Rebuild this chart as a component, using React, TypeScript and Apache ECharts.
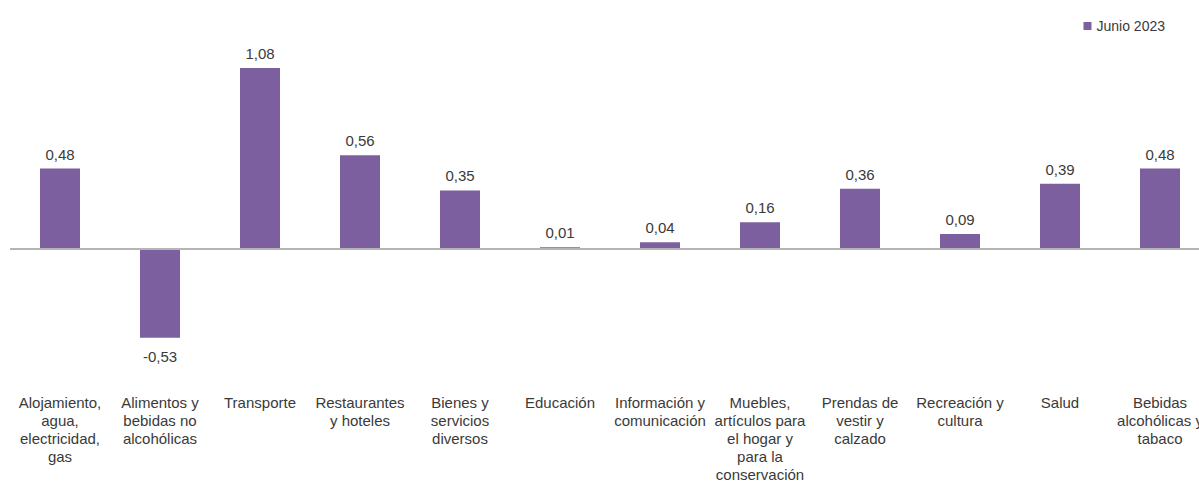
import React, { useEffect, useRef } from "react";
import * as echarts from "echarts";

const categories = [
  "Alojamiento,\nagua,\nelectricidad,\ngas",
  "Alimentos y\nbebidas no\nalcohólicas",
  "Transporte",
  "Restaurantes\ny hoteles",
  "Bienes y\nservicios\ndiversos",
  "Educación",
  "Información y\ncomunicación",
  "Muebles,\nartículos para\nel hogar y\npara la\nconservación",
  "Prendas de\nvestir y\ncalzado",
  "Recreación y\ncultura",
  "Salud",
  "Bebidas\nalcohólicas y\ntabaco",
];
const seriesName = "Junio 2023";
const values = [0.48, -0.53, 1.08, 0.56, 0.35, 0.01, 0.04, 0.16, 0.36, 0.09, 0.39, 0.48];

const BAR_COLOR = "#7c5f9f";
const TEXT_COLOR = "#3a3a3a";
const FONT = "Liberation Sans, Arial, sans-serif";
const CHART_W = 1230;

export default function App() {
  const ref = useRef<HTMLDivElement>(null);
  useEffect(() => {
    if (!ref.current) return;
    const chart = echarts.init(ref.current, undefined, { renderer: "svg" });
    chart.setOption({
      animation: false,
      textStyle: { fontFamily: FONT },
      legend: {
        data: [seriesName],
        right: 29 + (CHART_W - 1199),
        top: 14,
        itemWidth: 8,
        itemHeight: 8,
        icon: "rect",
        textStyle: { fontSize: 14, color: TEXT_COLOR, fontFamily: FONT },
      },
      grid: { left: 10, top: 48, width: 1200, height: 340, containLabel: false },
      xAxis: {
        type: "category",
        data: categories,
        axisLine: { show: false, onZero: false },
        axisTick: { show: false },
        axisLabel: {
          interval: 0,
          margin: 10,
          fontSize: 15,
          lineHeight: 18,
          color: TEXT_COLOR,
          fontFamily: FONT,
          hideOverlap: false,
        },
      },
      yAxis: {
        type: "value",
        min: -0.8,
        max: 1.2,
        show: false,
        splitLine: { show: false },
      },
      series: [
        {
          name: seriesName,
          type: "bar",
          barWidth: 40,
          itemStyle: { color: BAR_COLOR },
          data: values.map((v) => ({
            value: v,
            label: {
              show: true,
              position: v >= 0 ? "top" : "bottom",
              distance: v >= 0 ? 7 : 11,
              fontSize: 15,
              color: TEXT_COLOR,
              fontFamily: FONT,
              formatter: () => v.toFixed(2).replace(".", ","),
            },
          })),
          markLine: {
            silent: true,
            symbol: "none",
            label: { show: false },
            lineStyle: { type: "solid", color: "#b5b5b5", width: 2 },
            data: [{ yAxis: 0 }],
          },
        },
      ],
    });
    return () => chart.dispose();
  }, []);
  return (
    <div
      style={{ position: "absolute", left: 0, top: 0, width: 1199, height: 483, overflow: "hidden", background: "#fff" }}
    >
      <div ref={ref} style={{ width: CHART_W, height: 483 }} />
    </div>
  );
}
